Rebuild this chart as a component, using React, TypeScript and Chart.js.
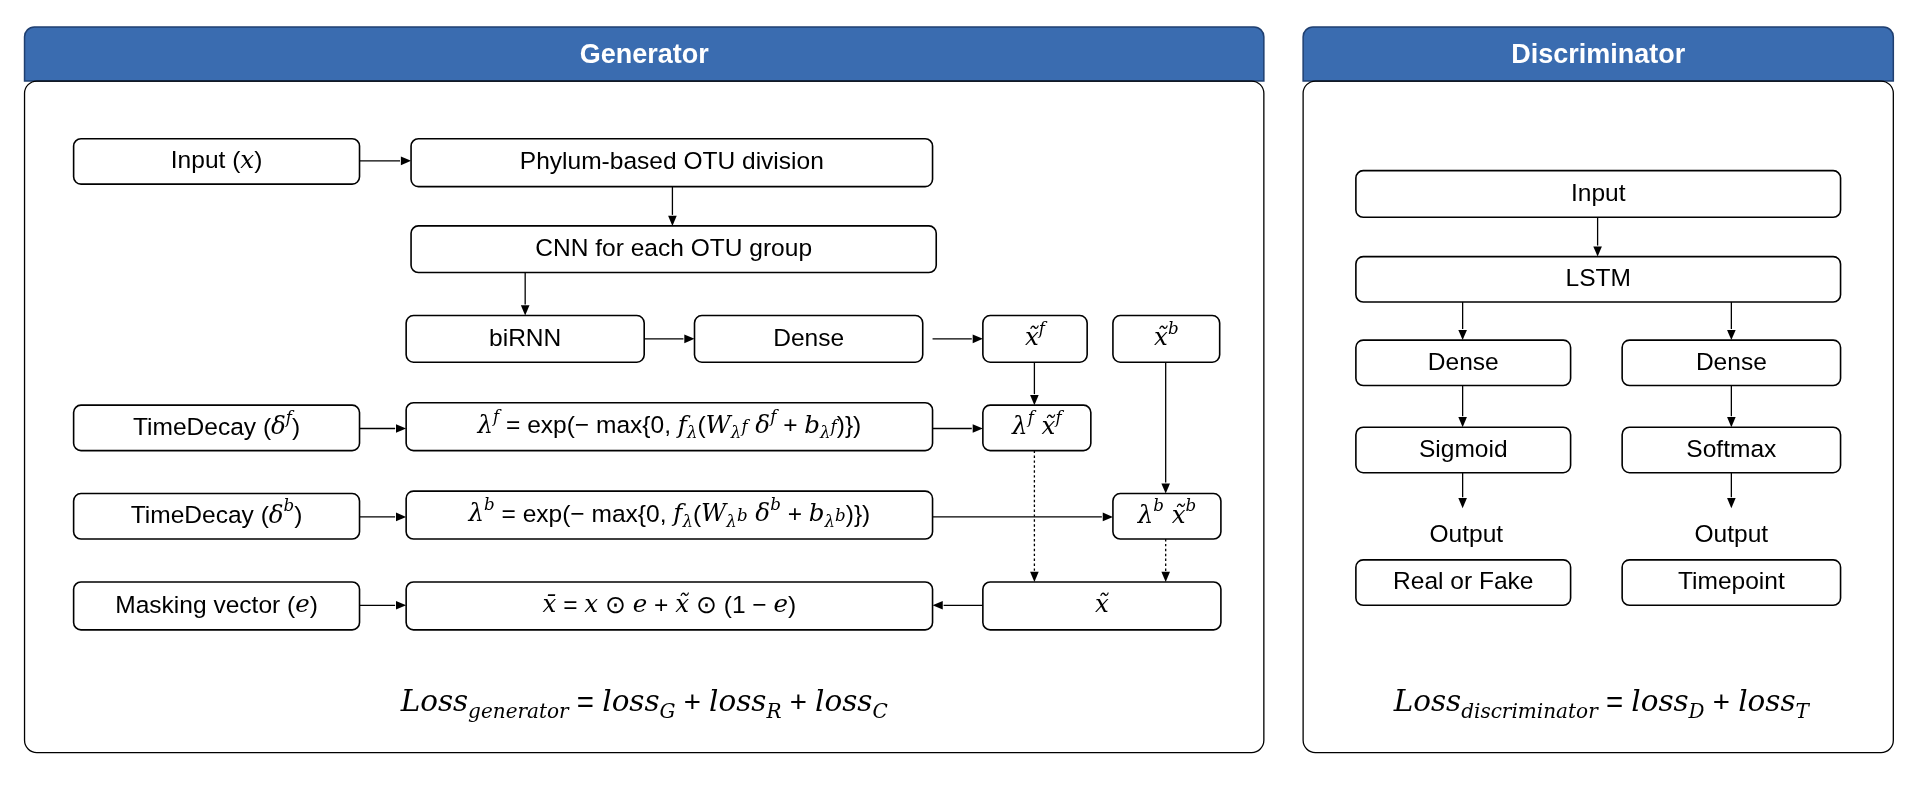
import React, { useEffect, useRef } from "react";
import { Chart, registerables } from "chart.js";
Chart.register(...registerables);

type Seg = { t: string; s?: "n" | "sup" | "sub" | "subsup"; i?: boolean };
const L = (t: string): Seg[] => [{ t }];

const panels = [
  { title: "Generator", x1: 20, x2: 1030 },
  { title: "Discriminator", x1: 1062, x2: 1543 },
];

const boxes: { x1: number; y1: number; x2: number; y2: number; label: Seg[] }[] = [
  { x1: 60, y1: 113, x2: 293, y2: 150, label: [{ t: "Input (" }, { t: "x", i: true }, { t: ")" }] },
  { x1: 335, y1: 113, x2: 760, y2: 152, label: L("Phylum-based OTU division") },
  { x1: 335, y1: 184, x2: 763, y2: 222, label: L("CNN for each OTU group") },
  { x1: 331, y1: 257, x2: 525, y2: 295, label: L("biRNN") },
  { x1: 566, y1: 257, x2: 752, y2: 295, label: L("Dense") },
  { x1: 801, y1: 257, x2: 886, y2: 295, label: [{ t: "x̃", i: true }, { t: "f", s: "sup", i: true }] },
  { x1: 907, y1: 257, x2: 994, y2: 295, label: [{ t: "x̃", i: true }, { t: "b", s: "sup", i: true }] },
  { x1: 60, y1: 330, x2: 293, y2: 367, label: [{ t: "TimeDecay (" }, { t: "δ", i: true }, { t: "f", s: "sup", i: true }, { t: ")" }] },
  { x1: 331, y1: 328, x2: 760, y2: 367, label: [
    { t: "λ", i: true }, { t: "f", s: "sup", i: true }, { t: " = exp(− max{0, " }, { t: "f", i: true }, { t: "λ", s: "sub", i: true },
    { t: "(" }, { t: "W", i: true }, { t: "λ", s: "sub", i: true }, { t: "f", s: "subsup", i: true }, { t: " δ", i: true }, { t: "f", s: "sup", i: true },
    { t: " + " }, { t: "b", i: true }, { t: "λ", s: "sub", i: true }, { t: "f", s: "subsup", i: true }, { t: ")})" } ] },
  { x1: 801, y1: 330, x2: 889, y2: 367, label: [{ t: "λ", i: true }, { t: "f", s: "sup", i: true }, { t: " x̃", i: true }, { t: "f", s: "sup", i: true }] },
  { x1: 60, y1: 402, x2: 293, y2: 439, label: [{ t: "TimeDecay (" }, { t: "δ", i: true }, { t: "b", s: "sup", i: true }, { t: ")" }] },
  { x1: 331, y1: 400, x2: 760, y2: 439, label: [
    { t: "λ", i: true }, { t: "b", s: "sup", i: true }, { t: " = exp(− max{0, " }, { t: "f", i: true }, { t: "λ", s: "sub", i: true },
    { t: "(" }, { t: "W", i: true }, { t: "λ", s: "sub", i: true }, { t: "b", s: "subsup", i: true }, { t: " δ", i: true }, { t: "b", s: "sup", i: true },
    { t: " + " }, { t: "b", i: true }, { t: "λ", s: "sub", i: true }, { t: "b", s: "subsup", i: true }, { t: ")})" } ] },
  { x1: 907, y1: 402, x2: 995, y2: 439, label: [{ t: "λ", i: true }, { t: "b", s: "sup", i: true }, { t: " x̃", i: true }, { t: "b", s: "sup", i: true }] },
  { x1: 60, y1: 474, x2: 293, y2: 513, label: [{ t: "Masking vector (" }, { t: "e", i: true }, { t: ")" }] },
  { x1: 331, y1: 474, x2: 760, y2: 513, label: [
    { t: "x̄", i: true }, { t: " = " }, { t: "x", i: true }, { t: " ⊙ " }, { t: "e", i: true }, { t: " + " }, { t: "x̃", i: true },
    { t: " ⊙ (1 − " }, { t: "e", i: true }, { t: ")" } ] },
  { x1: 801, y1: 474, x2: 995, y2: 513, label: [{ t: "x̃", i: true }] },
  { x1: 1105, y1: 139, x2: 1500, y2: 177, label: L("Input") },
  { x1: 1105, y1: 209, x2: 1500, y2: 246, label: L("LSTM") },
  { x1: 1105, y1: 277, x2: 1280, y2: 314, label: L("Dense") },
  { x1: 1322, y1: 277, x2: 1500, y2: 314, label: L("Dense") },
  { x1: 1105, y1: 348, x2: 1280, y2: 385, label: L("Sigmoid") },
  { x1: 1322, y1: 348, x2: 1500, y2: 385, label: L("Softmax") },
  { x1: 1105, y1: 456, x2: 1280, y2: 493, label: L("Real or Fake") },
  { x1: 1322, y1: 456, x2: 1500, y2: 493, label: L("Timepoint") },
];

const texts: { x: number; y: number; label: Seg[]; size: number }[] = [
  { x: 1195, y: 436, label: L("Output"), size: 20 },
  { x: 1411, y: 436, label: L("Output"), size: 20 },
  { x: 525, y: 573, size: 24, label: [{ t: "Loss", i: true }, { t: "generator", s: "sub", i: true }, { t: " = " }, { t: "loss", i: true }, { t: "G", s: "sub", i: true },
    { t: " + " }, { t: "loss", i: true }, { t: "R", s: "sub", i: true }, { t: " + " }, { t: "loss", i: true }, { t: "C", s: "sub", i: true }] },
  { x: 1305, y: 573, size: 24, label: [{ t: "Loss", i: true }, { t: "discriminator", s: "sub", i: true }, { t: " = " }, { t: "loss", i: true }, { t: "D", s: "sub", i: true },
    { t: " + " }, { t: "loss", i: true }, { t: "T", s: "sub", i: true }] },
];

const arrows: { a: [number, number]; b: [number, number]; dot?: boolean }[] = [
  { a: [293, 131], b: [335, 131] }, { a: [548, 152], b: [548, 184] }, { a: [428, 222], b: [428, 257] },
  { a: [525, 276], b: [566, 276] }, { a: [760, 276], b: [801, 276] }, { a: [843, 295], b: [843, 330] },
  { a: [293, 349], b: [331, 349] }, { a: [760, 349], b: [801, 349] }, { a: [950, 295], b: [950, 402] },
  { a: [293, 421], b: [331, 421] }, { a: [760, 421], b: [907, 421] },
  { a: [843, 367], b: [843, 474], dot: true }, { a: [950, 439], b: [950, 474], dot: true },
  { a: [801, 493], b: [760, 493] }, { a: [293, 493], b: [331, 493] },
  { a: [1302, 177], b: [1302, 209] }, { a: [1192, 246], b: [1192, 277] }, { a: [1411, 246], b: [1411, 277] },
  { a: [1192, 314], b: [1192, 348] }, { a: [1411, 314], b: [1411, 348] },
  { a: [1192, 385], b: [1192, 414] }, { a: [1411, 385], b: [1411, 414] },
];

function rr(ctx: CanvasRenderingContext2D, x: number, y: number, w: number, h: number, r: number[]) {
  ctx.beginPath();
  ctx.roundRect(x, y, w, h, r);
}

const diagramPlugin = {
  id: "diagram",
  afterDraw(chart: any) {
    const ctx: CanvasRenderingContext2D = chart.ctx;
    const xs = chart.scales.x, ys = chart.scales.y;
    const X = (v: number) => xs.getPixelForValue(v);
    const Y = (v: number) => ys.getPixelForValue(v);
    const k = (X(1000) - X(0)) / 1000;
    ctx.save();
    // panels
    panels.forEach((p) => {
      ctx.fillStyle = "#3a6cb0";
      ctx.strokeStyle = "#1f3f70";
      ctx.lineWidth = 1.5;
      rr(ctx, X(p.x1), Y(22), X(p.x2) - X(p.x1), Y(66) - Y(22), [8 * k, 8 * k, 0, 0]);
      ctx.fill(); ctx.stroke();
      ctx.fillStyle = "#fff";
      ctx.font = `bold ${22 * k}px "Liberation Sans", Arial, sans-serif`;
      ctx.textAlign = "center"; ctx.textBaseline = "middle";
      ctx.fillText(p.title, (X(p.x1) + X(p.x2)) / 2, Y(45));
      ctx.strokeStyle = "#000"; ctx.lineWidth = 1.3;
      rr(ctx, X(p.x1), Y(66), X(p.x2) - X(p.x1), Y(613) - Y(66), [10 * k]);
      ctx.stroke();
    });
    const drawSegs = (segs: Seg[], cx: number, cy: number, size: number) => {
      const fs = (s: Seg) => (s.s && s.s !== "n" ? size * 0.68 : size) * k;
      const font = (s: Seg) => s.i
        ? `italic ${fs(s)}px "DejaVu Serif", "Liberation Serif", serif`
        : `${fs(s)}px "Liberation Sans", Arial, sans-serif`;
      let w = 0;
      segs.forEach((s) => { ctx.font = font(s); w += ctx.measureText(s.t).width; });
      let x = cx - w / 2;
      ctx.textAlign = "left"; ctx.textBaseline = "middle"; ctx.fillStyle = "#000";
      segs.forEach((s) => {
        ctx.font = font(s);
        let dy = 0;
        if (s.s === "sup") dy = -size * 0.38 * k;
        if (s.s === "sub") dy = size * 0.3 * k;
        if (s.s === "subsup") dy = size * 0.05 * k;
        ctx.fillText(s.t, x, cy + dy);
        x += ctx.measureText(s.t).width;
      });
    };
    boxes.forEach((b) => {
      ctx.strokeStyle = "#000"; ctx.lineWidth = 1.6; ctx.fillStyle = "#fff";
      rr(ctx, X(b.x1), Y(b.y1), X(b.x2) - X(b.x1), Y(b.y2) - Y(b.y1), [6 * k]);
      ctx.fill(); ctx.stroke();
      drawSegs(b.label, (X(b.x1) + X(b.x2)) / 2, (Y(b.y1) + Y(b.y2)) / 2, 20);
    });
    texts.forEach((t) => drawSegs(t.label, X(t.x), Y(t.y), t.size));
    arrows.forEach((a) => {
      const x1 = X(a.a[0]), y1 = Y(a.a[1]), x2 = X(a.b[0]), y2 = Y(a.b[1]);
      const ang = Math.atan2(y2 - y1, x2 - x1);
      const hl = 9 * k;
      ctx.strokeStyle = "#000"; ctx.fillStyle = "#000"; ctx.lineWidth = 1.3;
      ctx.setLineDash(a.dot ? [2 * k, 2 * k] : []);
      ctx.beginPath(); ctx.moveTo(x1, y1);
      ctx.lineTo(x2 - Math.cos(ang) * hl, y2 - Math.sin(ang) * hl); ctx.stroke();
      ctx.setLineDash([]);
      ctx.beginPath(); ctx.moveTo(x2, y2);
      ctx.lineTo(x2 - hl * Math.cos(ang - 0.4), y2 - hl * Math.sin(ang - 0.4));
      ctx.lineTo(x2 - hl * Math.cos(ang + 0.4), y2 - hl * Math.sin(ang + 0.4));
      ctx.closePath(); ctx.fill();
    });
    ctx.restore();
  },
};

export default function App() {
  const ref = useRef<HTMLCanvasElement>(null);
  useEffect(() => {
    const chart = new Chart(ref.current!, {
      type: "scatter",
      data: { datasets: [{ data: boxes.map((b) => ({ x: (b.x1 + b.x2) / 2, y: (b.y1 + b.y2) / 2 })), pointRadius: 0 }] },
      options: {
        animation: false, responsive: true, maintainAspectRatio: false,
        layout: { padding: 0 },
        plugins: { legend: { display: false }, tooltip: { enabled: false } },
        scales: {
          x: { type: "linear", min: 0, max: 1568, display: false },
          y: { type: "linear", min: 0, max: 641, reverse: true, display: false },
        },
      },
      plugins: [diagramPlugin],
    });
    return () => chart.destroy();
  }, []);
  return (
    <div style={{ position: "fixed", left: 0, top: 0, width: "1924px", height: "787px", background: "#fff" }}>
      <canvas ref={ref} />
    </div>
  );
}
